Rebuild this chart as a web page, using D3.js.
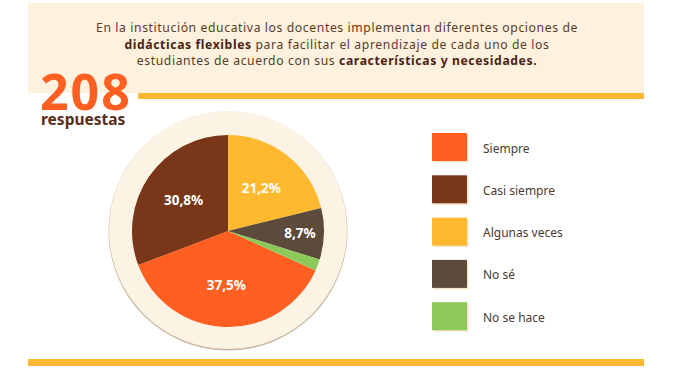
<!DOCTYPE html>
<html>
<head>
<meta charset="utf-8">
<script src="https://cdn.jsdelivr.net/npm/d3@7"></script>
<style>
  html, body { margin: 0; padding: 0; background: #ffffff; }
  svg { display: block; }
  text { font-family: "Noto Sans", sans-serif; }
</style>
</head>
<body>
<svg id="chart" width="676" height="371"></svg>
<script>
// ---- data ----
const categories = ["Siempre", "Casi siempre", "Algunas veces", "No sé", "No se hace"];
const counts = [78, 64, 44, 18, 4];
const colors = ["#FF5F21", "#7A3618", "#FFB92F", "#5C4A3B", "#8CC95A"];
const totalResponses = 208;
const titleLines = [
  [["En la institución educativa los docentes implementan diferentes opciones de", false]],
  [["didácticas flexibles", true], [" para facilitar el aprendizaje de cada uno de los", false]],
  [["estudiantes de acuerdo con sus ", false], ["características y necesidades.", true]]
];

const svg = d3.select("#chart");

// header box
svg.append("rect").attr("x", 28).attr("y", 3).attr("width", 616).attr("height", 90)
  .attr("fill", "#FEF1DE");

titleLines.forEach((line, i) => {
  const t = svg.append("text").attr("text-anchor", "middle")
    .attr("font-size", 12.2).attr("letter-spacing", 0.6).attr("fill", "#5A3A28")
    .attr("x", 337).attr("y", 32 + i * 16.7);
  line.forEach(([txt, bold]) => {
    t.append("tspan").text(txt)
      .attr("font-weight", bold ? 700 : 400)
      .attr("fill", bold ? "#4A2314" : "#5A3A28");
  });
});

// yellow rules
svg.append("rect").attr("x", 138).attr("y", 93).attr("width", 506).attr("height", 6).attr("fill", "#FDB933");
svg.append("rect").attr("x", 28).attr("y", 359).attr("width", 616).attr("height", 7).attr("fill", "#FDB933");

// 208 respuestas
const big = svg.append("text").attr("font-weight", 700);
big.append("tspan").attr("x", 40).attr("y", 110).attr("font-size", 50).attr("letter-spacing", 2)
  .attr("fill", "#FF5F21").text(totalResponses);
big.append("tspan").attr("x", 41).attr("y", 125).attr("font-size", 15.5).attr("letter-spacing", 0)
  .attr("fill", "#5A2E1A").text("respuestas");

// pie
const cx = 228, cy = 231, r = 96;
const total = d3.sum(counts);
const g = svg.append("g").attr("transform", `translate(${cx},${cy})`);
g.append("circle").attr("cx", 0).attr("cy", 0).attr("r", 119.5).attr("fill", "#C9B59E");
g.append("circle").attr("cx", 0).attr("cy", -1).attr("r", 119).attr("fill", "#FCF3E5");

const offset = -(counts[0] + counts[1]) / total * 2 * Math.PI;
const pie = d3.pie().sort(null).value(d => d.v)
  .startAngle(offset).endAngle(offset + 2 * Math.PI);
const data = categories.map((c, i) => ({ c, v: counts[i], col: colors[i] }));
const arcs = pie(data);
const arc = d3.arc().innerRadius(0).outerRadius(r);
g.selectAll("path.slice").data(arcs).join("path").attr("class", "slice")
  .attr("d", arc).attr("fill", d => d.data.col);

const labelArcMain = d3.arc().innerRadius(54).outerRadius(54);
const labelArcSmall = d3.arc().innerRadius(72).outerRadius(72);
g.selectAll("text.pl").data(arcs.filter(d => d.data.v / totalResponses >= 0.05)).join("text")
  .attr("class", "pl")
  .attr("transform", d => {
    const a = (d.data.v / total < 0.15 ? labelArcSmall : labelArcMain).centroid(d);
    return `translate(${a[0]},${a[1]})`;
  })
  .attr("text-anchor", "middle").attr("dy", "0.35em")
  .attr("font-size", 13.5).attr("font-weight", 700).attr("fill", "#ffffff")
  .text(d => (d.data.v / totalResponses * 100).toFixed(1).replace(".", ",") + "%");

// legend
const lg = svg.append("g");
const items = lg.selectAll("g").data(data).join("g")
  .attr("transform", (d, i) => `translate(432,${133 + i * 42.3})`);
items.append("rect").attr("x", 1.5).attr("y", 1.5).attr("width", 35).attr("height", 28).attr("fill", "#F5E6C8");
items.append("rect").attr("width", 35).attr("height", 28).attr("fill", d => d.col);
items.append("text").attr("x", 51).attr("y", 19.5).attr("font-size", 12).attr("fill", "#4B3A30")
  .text(d => d.c);
</script>
</body>
</html>
